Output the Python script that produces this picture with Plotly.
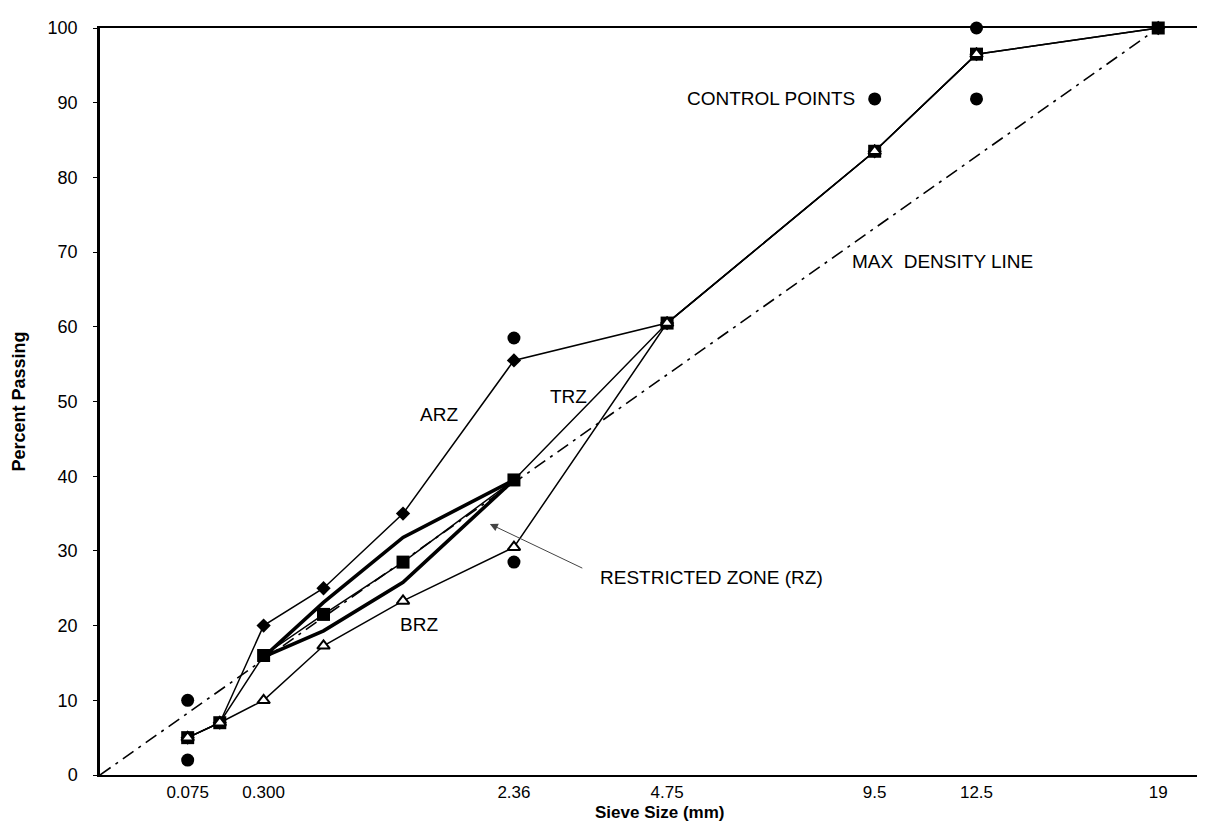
import plotly.graph_objects as go

# ---- data ----
sieve_sizes = [0.075, 0.15, 0.3, 0.6, 1.18, 2.36, 4.75, 9.5, 12.5, 19]
arz_passing = [5, 7, 20, 25, 35, 55.5, 60.5, 83.5, 96.5, 100]
trz_passing = [5, 7, 16, 21.5, 28.5, 39.5, 60.5, 83.5, 96.5, 100]
brz_sizes = [0.075, 0.15, 0.3, 0.6, 1.18, 2.36, 4.75, 9.5, 12.5]
brz_passing = [5, 7, 10, 17.3, 23.3, 30.5, 60.5, 83.5, 96.5]

control_sizes = [0.075, 0.075, 2.36, 2.36, 9.5, 12.5, 12.5]
control_passing = [2, 10, 28.5, 58.5, 90.5, 90.5, 100]

rz_upper_sizes = [0.3, 0.6, 1.18, 2.36]
rz_upper_passing = [15.8, 23.1, 31.8, 39.5]
rz_lower_sizes = [0.3, 0.6, 1.18, 2.36]
rz_lower_passing = [15.8, 19.3, 25.8, 39.5]

mdl_sizes = [0, 19]
mdl_passing = [0, 100]

tick_sizes = [0.075, 0.3, 2.36, 4.75, 9.5, 12.5, 19]
tick_labels = ["0.075", "0.300", "2.36", "4.75", "9.5", "12.5", "19"]

P = 0.45


def px(v):
    return [s ** P for s in v]


FONT = "Liberation Sans, Arial, Helvetica, sans-serif"

fig = go.Figure()

# max density line
fig.add_trace(go.Scatter(
    x=px(mdl_sizes), y=mdl_passing, mode="lines",
    line=dict(color="black", width=1.6, dash="13px,6px,3px,6px"),
    hoverinfo="skip", cliponaxis=False))

# restricted zone (closed polygon of thick lines)
rz_x = px(rz_upper_sizes) + px(rz_lower_sizes[::-1])
rz_y = rz_upper_passing + rz_lower_passing[::-1]
fig.add_trace(go.Scatter(
    x=rz_x, y=rz_y, mode="lines",
    line=dict(color="black", width=3.6), hoverinfo="skip"))

# ARZ
fig.add_trace(go.Scatter(
    x=px(sieve_sizes), y=arz_passing, mode="lines+markers",
    line=dict(color="black", width=1.5),
    marker=dict(symbol="diamond", size=11, color="black"),
    cliponaxis=False))

# TRZ
fig.add_trace(go.Scatter(
    x=px(sieve_sizes), y=trz_passing, mode="lines+markers",
    line=dict(color="black", width=1.5),
    marker=dict(symbol="square", size=13, color="black"),
    cliponaxis=False))

# BRZ
fig.add_trace(go.Scatter(
    x=px(brz_sizes), y=brz_passing, mode="lines+markers",
    line=dict(color="black", width=1.5),
    marker=dict(symbol="triangle-up", size=11, color="white",
                line=dict(color="black", width=2)),
    cliponaxis=False))

# control points
fig.add_trace(go.Scatter(
    x=px(control_sizes), y=control_passing, mode="markers",
    marker=dict(symbol="circle", size=13, color="black"),
    cliponaxis=False))

fs = 19
ann = [
    dict(x=1.205, y=48.2, text="ARZ", showarrow=False, xanchor="center", yanchor="middle"),
    dict(x=1.664, y=50.7, text="TRZ", showarrow=False, xanchor="center", yanchor="middle"),
    dict(x=1.134, y=20.1, text="BRZ", showarrow=False, xanchor="center", yanchor="middle"),
    dict(x=2.691, y=90.6, text="CONTROL POINTS", showarrow=False, xanchor="right", yanchor="middle"),
    dict(x=2.666, y=68.7, text="MAX&nbsp;&nbsp;DENSITY LINE", showarrow=False, xanchor="left", yanchor="middle"),
    dict(x=1.77, y=26.4, text="RESTRICTED ZONE (RZ)", showarrow=False, xanchor="left", yanchor="middle"),
    dict(x=1.386, y=33.6, ax=1.72, ay=27.6, axref="x", ayref="y", text="",
         showarrow=True, arrowhead=2, arrowsize=1.6, arrowwidth=1, arrowcolor="#444"),
]
for a in ann:
    a.setdefault("font", dict(family=FONT, size=fs, color="black"))
    a["xref"] = "x"
    a["yref"] = "y"

ann.append(dict(xref="paper", yref="paper", x=0.51, y=0, yshift=-37,
                text="<b>Sieve Size (mm)</b>", showarrow=False,
                xanchor="center", yanchor="middle",
                font=dict(family=FONT, size=17, color="black")))
ann.append(dict(xref="paper", yref="paper", x=0, y=0.5, xshift=-82,
                text="<b>Percent Passing</b>", showarrow=False, textangle=-90,
                xanchor="center", yanchor="middle",
                font=dict(family=FONT, size=18, color="black")))

# page body has an 8px margin: compensate so the plot lands where the reference has it
fig.update_layout(
    width=1218, height=813,
    margin=dict(l=92, r=29, t=10, b=46),
    paper_bgcolor="white", plot_bgcolor="white",
    showlegend=False,
    annotations=ann,
    font=dict(family=FONT, size=18, color="black"),
    xaxis=dict(
        range=[0, 3.90], showgrid=False, zeroline=False,
        tickmode="array", tickvals=px(tick_sizes), ticktext=tick_labels,
        ticks="outside", ticklen=1, tickcolor="white", ticklabelstandoff=0,
        showline=True, linecolor="black", linewidth=2, mirror=True,
        layer="below traces",
        tickfont=dict(family=FONT, size=17, color="black")),
    yaxis=dict(
        range=[0, 100], showgrid=False, zeroline=False,
        tickmode="array", tickvals=list(range(0, 101, 10)),
        ticks="outside", ticklen=4, tickcolor="black", ticklabelstandoff=12,
        showline=True, linecolor="black", linewidth=2.5,
        layer="below traces",
        tickfont=dict(family=FONT, size=18, color="black")),
)

fig.write_html("out.html")
